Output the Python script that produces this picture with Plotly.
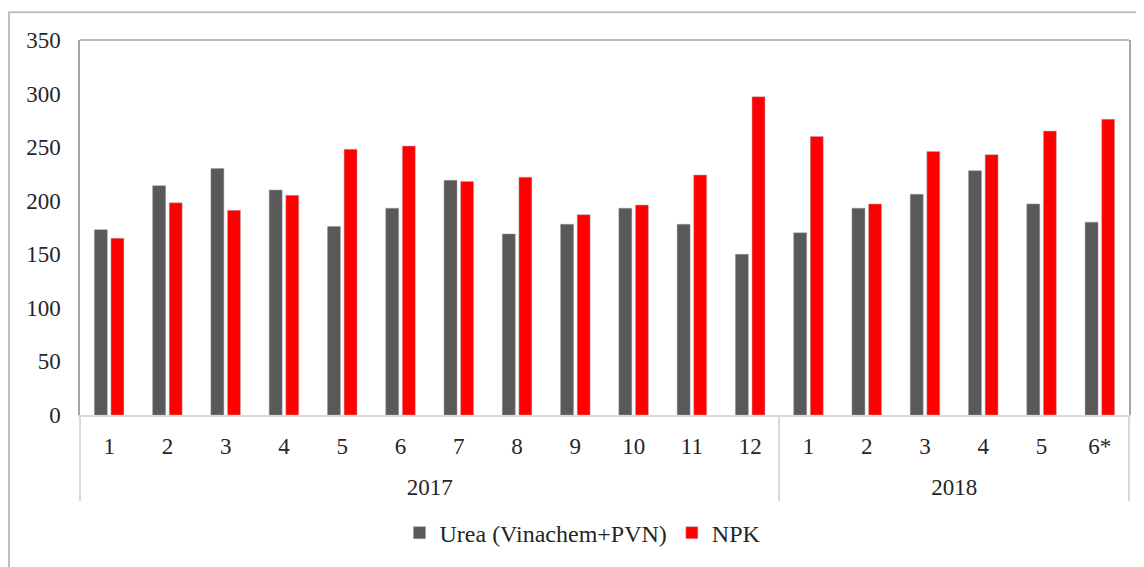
import plotly.graph_objects as go

years = ["2017"] * 12 + ["2018"] * 6
months = ["1", "2", "3", "4", "5", "6", "7", "8", "9", "10", "11", "12",
          "1", "2", "3", "4", "5", "6*"]
urea = [173, 214, 230, 210, 176, 193, 219, 169, 178, 193, 178, 150,
        170, 193, 206, 228, 197, 180]
npk = [165, 198, 191, 205, 248, 251, 218, 222, 187, 196, 224, 297,
       260, 197, 246, 243, 265, 276]

FONT = "Times New Roman, Liberation Serif, serif"
TXT = "#262626"
OFF = 8  # page body margin offset
W, H = 1144 - OFF, 567 - OFF
L, R, T, B = 80 - OFF, 15, 40 - OFF, 567 - 418
pw, ph = W - L - R, H - T - B

def px(x):
    return (x - OFF - L) / pw

def py(y):
    return (H - B - (y - OFF)) / ph

keys = [f"{y}-{m}" for y, m in zip(years, months)]
n = len(keys)

# year groups: centres and boundaries (in category index units)
year_names, centres, bounds = [], [], [-0.5]
start = 0
for i in range(1, n + 1):
    if i == n or years[i] != years[start]:
        year_names.append(years[start])
        centres.append((start + i - 1) / 2)
        bounds.append(i - 0.5)
        start = i

fig = go.Figure()
fig.add_trace(go.Bar(x=keys, y=urea, name="Urea (Vinachem+PVN)",
                     marker=dict(color="#595959", line=dict(color="#9a9a9a", width=0.5))))
fig.add_trace(go.Bar(x=keys, y=npk, name="NPK",
                     marker=dict(color="#ff0000", line=dict(color="#b0b0b0", width=0.5))))
fig.add_trace(go.Scatter(x=centres, y=[0] * len(centres), xaxis="x2", mode="markers",
                         marker=dict(opacity=0), showlegend=False, hoverinfo="skip"))

fig.update_layout(
    width=W, height=H,
    margin=dict(l=L, r=R, t=T, b=B),
    paper_bgcolor="white", plot_bgcolor="white",
    barmode="group", bargap=0.43, bargroupgap=0.22,
    font=dict(family=FONT, size=23, color=TXT),
    showlegend=True,
    legend=dict(orientation="h", x=px(583), xanchor="center", y=py(537), yanchor="middle",
                font=dict(family=FONT, size=24, color=TXT), itemwidth=30,
                traceorder="normal"),
    xaxis=dict(type="category", range=[-0.5, n - 0.5], tickmode="array",
               tickvals=keys, ticktext=months,
               showline=True, linecolor="#d9d9d9", linewidth=1.5,
               showgrid=False, ticks="", automargin=False, ticklabelstandoff=10,
               tickfont=dict(family=FONT, size=23, color=TXT)),
    xaxis2=dict(overlaying="x", anchor="y", side="bottom", range=[-0.5, n - 0.5],
                tickmode="array", tickvals=centres, ticktext=year_names,
                showline=False, showgrid=False, zeroline=False, ticks="",
                automargin=False, ticklabelstandoff=56,
                minor=dict(tickmode="array", tickvals=bounds, ticks="outside",
                           ticklen=85, tickwidth=1.5, tickcolor="#d9d9d9"),
                tickfont=dict(family=FONT, size=23, color=TXT)),
    yaxis=dict(range=[0, 350], dtick=50, showgrid=False, showline=True,
               linecolor="#a6a6a6", linewidth=1.5, mirror=True, ticks="",
               ticklabelstandoff=13, zeroline=False, automargin=False,
               tickfont=dict(family=FONT, size=23, color=TXT)),
    shapes=[
        dict(type="line", xref="paper", yref="paper", x0=px(8), x1=px(1150),
             y0=py(12), y1=py(12), line=dict(color="#bfbfbf", width=2)),
        dict(type="line", xref="paper", yref="paper", x0=px(9), x1=px(9),
             y0=py(12), y1=py(575), line=dict(color="#bfbfbf", width=2)),
        dict(type="line", xref="paper", yref="paper", x0=0, x1=1,
             y0=1, y1=1, line=dict(color="#a6a6a6", width=1.5)),
    ],
)

fig.write_html("out.html")
